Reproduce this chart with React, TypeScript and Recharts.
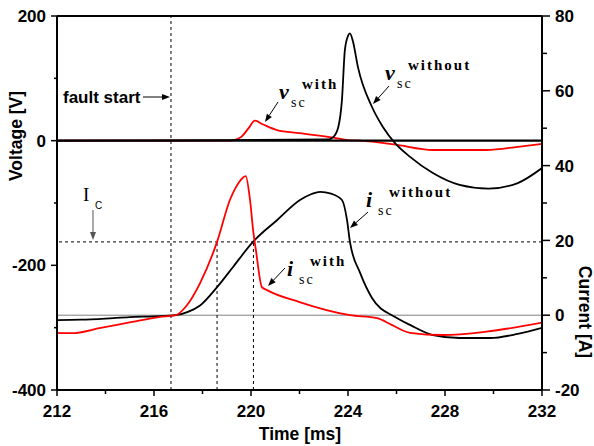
import React from "react"
import { LineChart, Line, XAxis, YAxis, ReferenceLine } from "recharts"

// voltage, left axis [V]
const vWithT = [212, 219.0, 219.3, 219.6, 219.9, 220.16, 220.5, 221.07, 222.0, 223.4, 224.0, 224.5, 225.9, 227.5, 229.7, 231.0, 232]
const vWithV = [0, 0, 1, 6, 20, 32, 26, 17, 12, 5, 1, 0, -6, -15, -15, -10, -5]

const vWithoutT = [212, 219.0, 223.2, 223.4, 223.6, 223.75, 223.87, 224.0, 224.08, 224.2, 224.41, 224.99, 225.44, 225.94, 226.56, 227.5, 228.6, 229.8, 231.0, 232]
const vWithoutV = [0, 1, 2, 6, 22, 65, 145, 168, 172, 160, 118, 54, 22, -4, -26, -52, -71, -77, -68, -44]

// current, right axis [A]
const iWithT = [212, 212.6, 213.8, 215.1, 216.2, 216.9, 217.3, 217.9, 218.6, 219.13, 219.5, 219.78, 219.96, 220.1, 220.2, 220.45, 220.66, 222.0, 224.08, 225.2, 225.8, 226.56, 227.9, 229.7, 232]
const iWithI = [-4.7, -4.8, -3.4, -1.8, -0.5, 0, 2.2, 8.6, 19.6, 30.8, 35.5, 37.2, 30.8, 22, 17.5, 7.5, 6.7, 3.5, 0, -0.8, -2.6, -4.7, -5.3, -4.4, -2]

const iWithoutT = [212, 213, 214, 215, 216, 216.9, 217.4, 217.9, 218.6, 219.26, 220.08, 221.07, 222.02, 222.5, 222.85, 223.3, 223.75, 223.96, 224.08, 224.5, 224.99, 225.94, 226.56, 227.5, 228.6, 229.86, 231, 232]
const iWithoutI = [-1.3, -1.2, -0.9, -0.5, -0.3, 0, 0.9, 2.6, 7.5, 12.9, 19.6, 25.4, 30.8, 32.4, 33, 32.5, 30.8, 25.4, 19.6, 11.3, 4.6, -0.5, -2.6, -5.3, -6.1, -6.1, -5, -3.4]

const xTicks = [212, 214, 216, 218, 220, 222, 224, 226, 228, 230, 232]
const vTicks = [-400, -300, -200, -100, 0, 100, 200]
const iTicks = [-20, -10, 0, 10, 20, 30, 40, 50, 60, 70, 80]

const faultStart = 216.7
const icLevel = 19.6
const icCrossWith = 218.6
const icCrossWithout = 220.1

const zip = (ts: number[], ys: number[], key: string) => ts.map((t, i) => ({ t, [key]: ys[i] }))

const TICK_FONT = { fontFamily: "'Liberation Sans', Arial, sans-serif", fontWeight: 700, fontSize: 17, fill: "#000" }
const LABEL_FONT = { fontFamily: "'Liberation Sans', Arial, sans-serif", fontWeight: 700, fontSize: 17.5, fill: "#000" }
const SERIF = "'Liberation Serif', 'Times New Roman', serif"

const BottomTick = (props: any) => {
  const { x, y, payload } = props
  const major = (payload.value - 212) % 4 === 0
  return (
    <g>
      <line x1={x} x2={x} y1={y} y2={y + (major ? 6 : 4)} stroke="#000" strokeWidth={1.5} />
      {major && (
        <text x={x} y={y + 27} textAnchor="middle" {...TICK_FONT}>
          {payload.value}
        </text>
      )}
    </g>
  )
}

const LeftTick = (props: any) => {
  const { x, y, payload } = props
  const major = payload.value % 200 === 0
  return (
    <g>
      <line x1={x} x2={x - (major ? 6 : 3)} y1={y} y2={y} stroke="#000" strokeWidth={1.5} />
      {major && (
        <text x={x - 11} y={y} dy="0.36em" textAnchor="end" {...TICK_FONT}>
          {payload.value}
        </text>
      )}
    </g>
  )
}

const RightTick = (props: any) => {
  const { x, y, payload } = props
  const major = payload.value % 20 === 0
  return (
    <g>
      <line x1={x} x2={x + (major ? 8 : 5)} y1={y} y2={y} stroke="#000" strokeWidth={1.5} />
      {major && (
        <text x={x + 13} y={y} dy="0.36em" textAnchor="start" {...TICK_FONT}>
          {payload.value}
        </text>
      )}
    </g>
  )
}

function Arrow({ x1, y1, x2, y2, color = "#000" }: { x1: number; y1: number; x2: number; y2: number; color?: string }) {
  const a = Math.atan2(y2 - y1, x2 - x1)
  const len = 8
  const w = 3
  const bx = x2 - len * Math.cos(a)
  const by = y2 - len * Math.sin(a)
  const px = -Math.sin(a) * w
  const py = Math.cos(a) * w
  return (
    <g>
      <line x1={x1} y1={y1} x2={bx} y2={by} stroke={color} strokeWidth={1} />
      <polygon points={`${x2},${y2} ${bx + px},${by + py} ${bx - px},${by - py}`} fill={color} />
    </g>
  )
}

function Sym({ x, y, sym, sup }: { x: number; y: number; sym: string; sup: string }) {
  // x,y = baseline of the main symbol
  return (
    <g>
      <text x={x} y={y} fontFamily={SERIF} fontStyle="italic" fontWeight={700} fontSize={22}>
        {sym}
      </text>
      <text x={x + 12} y={y + 8} fontFamily={SERIF} fontSize={14} letterSpacing={2}>
        sc
      </text>
      <text x={x + 23} y={y - 10} fontFamily={SERIF} fontWeight={700} fontSize={15} letterSpacing={2}>
        {sup}
      </text>
    </g>
  )
}

export default function App() {
  return (
    <div style={{ position: "relative", width: 594, height: 446 }}>
      <style>{"body{margin:0}"}</style>
      <LineChart width={594} height={446} margin={{ top: 16, right: 0, bottom: 0, left: 0 }}>
        <XAxis
          xAxisId="b"
          dataKey="t"
          type="number"
          domain={[212, 232]}
          ticks={xTicks}
          interval={0}
          allowDataOverflow
          height={56}
          tickSize={0}
          tickMargin={0}
          tickLine={false}
          tick={<BottomTick />}
          axisLine={{ stroke: "#000", strokeWidth: 2 }}
        />
        <YAxis
          yAxisId="v"
          orientation="left"
          type="number"
          domain={[-400, 200]}
          ticks={vTicks}
          interval={0}
          allowDataOverflow
          width={57}
          tickSize={0}
          tickMargin={0}
          tickLine={false}
          tick={<LeftTick />}
          axisLine={{ stroke: "#000", strokeWidth: 2 }}
        />
        <YAxis
          yAxisId="i"
          orientation="right"
          type="number"
          domain={[-20, 80]}
          ticks={iTicks}
          interval={0}
          allowDataOverflow
          width={52}
          tickSize={0}
          tickMargin={0}
          tickLine={false}
          tick={<RightTick />}
          axisLine={{ stroke: "#000", strokeWidth: 2 }}
        />

        <ReferenceLine xAxisId="b" yAxisId="v" y={200} stroke="#000" strokeWidth={2} ifOverflow="visible" />
        <ReferenceLine xAxisId="b" yAxisId="i" y={0} stroke="#808080" strokeWidth={1} />
        <ReferenceLine xAxisId="b" yAxisId="i" y={icLevel} stroke="#000" strokeWidth={1} strokeDasharray="3 3" />
        <ReferenceLine xAxisId="b" yAxisId="v" x={faultStart} stroke="#000" strokeWidth={1} strokeDasharray="3 3" />
        <ReferenceLine
          xAxisId="b"
          yAxisId="i"
          segment={[{ x: icCrossWith, y: -20 }, { x: icCrossWith, y: icLevel }]}
          stroke="#000"
          strokeWidth={1}
          strokeDasharray="3 3"
        />
        <ReferenceLine
          xAxisId="b"
          yAxisId="i"
          segment={[{ x: icCrossWithout, y: -20 }, { x: icCrossWithout, y: icLevel }]}
          stroke="#000"
          strokeWidth={1}
          strokeDasharray="3 3"
        />

        <Line xAxisId="b" yAxisId="i" data={zip(iWithoutT, iWithoutI, "i")} dataKey="i" stroke="#000" strokeWidth={1.8} dot={false} isAnimationActive={false} type="monotone" />
        <Line xAxisId="b" yAxisId="i" data={zip(iWithT, iWithI, "i")} dataKey="i" stroke="#ff0000" strokeWidth={1.8} dot={false} isAnimationActive={false} type="monotone" />
        <Line xAxisId="b" yAxisId="v" data={zip(vWithT, vWithV, "v")} dataKey="v" stroke="#ff0000" strokeWidth={1.8} dot={false} isAnimationActive={false} type="monotone" />
        <Line xAxisId="b" yAxisId="v" data={zip(vWithoutT, vWithoutV, "v")} dataKey="v" stroke="#000" strokeWidth={1.8} dot={false} isAnimationActive={false} type="monotone" />
        <ReferenceLine xAxisId="b" yAxisId="v" y={0} stroke="#000" strokeWidth={2.2} />
      </LineChart>

      <svg width={594} height={446} style={{ position: "absolute", left: 0, top: 0, pointerEvents: "none" }}>
        <text transform="translate(22,136) rotate(-90)" textAnchor="middle" {...LABEL_FONT}>
          Voltage [V]
        </text>
        <text transform="translate(579,312) rotate(90)" textAnchor="middle" {...LABEL_FONT}>
          Current [A]
        </text>
        <text x={300} y={440} textAnchor="middle" {...LABEL_FONT}>
          Time [ms]
        </text>

        <text x={63} y={103} {...TICK_FONT}>
          fault start
        </text>
        <Arrow x1={143} y1={97} x2={170} y2={97} />

        <text x={83} y={201} fontFamily={SERIF} fontSize={19}>
          I
        </text>
        <text x={95} y={209} fontFamily="'Liberation Sans', Arial, sans-serif" fontSize={10}>
          C
        </text>
        <Arrow x1={93} y1={210} x2={93} y2={240} color="#555" />

        <Sym x={279} y={99} sym="v" sup="with" />
        <Arrow x1={278} y1={102} x2={265} y2={122} />

        <Sym x={385} y={80} sym="v" sup="without" />
        <Arrow x1={389} y1={86} x2={373} y2={104} />

        <Sym x={366} y={207} sym="i" sup="without" />
        <Arrow x1={368} y1={212} x2={350} y2={228} />

        <Sym x={287} y={276} sym="i" sup="with" />
        <Arrow x1={285} y1={268} x2={268} y2={286} />
      </svg>
    </div>
  )
}
